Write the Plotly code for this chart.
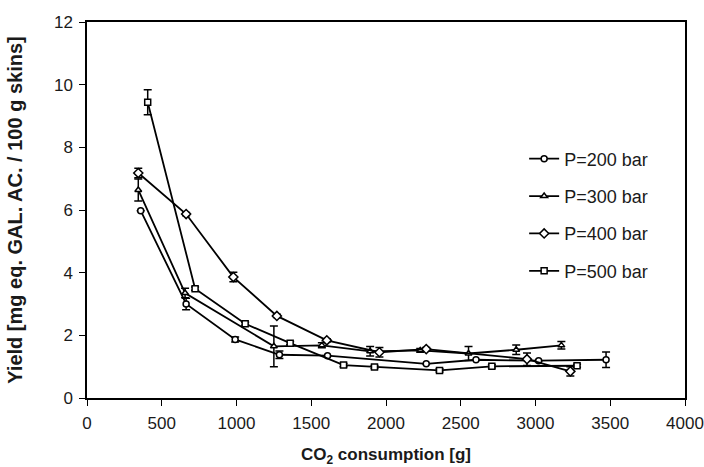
import plotly.graph_objects as go

# P=200 bar (circles)
x200 = [359, 663, 991, 1287, 1609, 2269, 2602, 3021, 3472]
y200 = [5.98, 3.00, 1.87, 1.38, 1.35, 1.09, 1.22, 1.19, 1.22]
e200 = [0.0, 0.18, 0.08, 0.12, 0.0, 0.0, 0.0, 0.0, 0.25]

# P=300 bar (triangles)
x300 = [343, 656, 1250, 1571, 1894, 2229, 2552, 2871, 3173]
y300 = [6.64, 3.35, 1.65, 1.68, 1.49, 1.52, 1.42, 1.54, 1.68]
e300 = [0.35, 0.15, 0.65, 0.08, 0.15, 0.06, 0.22, 0.15, 0.12]

# P=400 bar (diamonds)
x400 = [343, 663, 979, 1270, 1604, 1956, 2269, 2943, 3233]
y400 = [7.18, 5.87, 3.86, 2.62, 1.84, 1.46, 1.56, 1.24, 0.85]
e400 = [0.15, 0.05, 0.15, 0.05, 0.05, 0.15, 0.05, 0.20, 0.15]

# P=500 bar (squares)
x500 = [406, 723, 1058, 1359, 1716, 1923, 2358, 2708, 3278]
y500 = [9.44, 3.49, 2.37, 1.75, 1.05, 0.99, 0.88, 1.01, 1.03]
e500 = [0.40, 0.05, 0.05, 0.05, 0.05, 0.05, 0.05, 0.05, 0.05]

series = [
    ("P=200 bar", x200, y200, e200, "circle", 6),
    ("P=300 bar", x300, y300, e300, "triangle-up", 6),
    ("P=400 bar", x400, y400, e400, "diamond", 7),
    ("P=500 bar", x500, y500, e500, "square", 6),
]

fig = go.Figure()
for i, (name, xs, ys, es, sym, sz) in enumerate(series):
    fig.add_trace(go.Scatter(
        x=xs, y=ys, name=name, mode="lines+markers",
        legendgroup=f"g{i}",
        line=dict(color="black", width=1.8),
        marker=dict(symbol=sym, size=sz, color="white", line=dict(color="black", width=1.5)),
        error_y=dict(type="data", array=es, visible=True, color="black", thickness=1.5, width=4),
    ))

font_family = "Liberation Sans, Arial, sans-serif"
fig.update_layout(
    width=704, height=467,
    margin=dict(l=87, r=19, t=22, b=69, autoexpand=False),
    paper_bgcolor="white", plot_bgcolor="white",
    font=dict(family=font_family, size=17, color="#1a1a1a"),
    showlegend=True,
    legend=dict(x=0.731, y=0.685, xanchor="left", yanchor="top",
                font=dict(size=18, color="#1a1a1a"), tracegroupgap=11,
                bgcolor="rgba(0,0,0,0)", itemwidth=30),
    xaxis=dict(range=[0, 4000], tick0=0, dtick=500, showgrid=False, zeroline=False,
               automargin=False,
               showline=True, linecolor="black", linewidth=1.5, mirror=True,
               ticks="outside", ticklen=6, tickcolor="black", tickwidth=1.2,
               tickfont=dict(size=17), ticklabelstandoff=3,
               title=dict(text="<b>CO<sub>2</sub> consumption [g]</b>", font=dict(size=17), standoff=21)),
    yaxis=dict(range=[0, 12], tick0=0, dtick=2, showgrid=False, zeroline=False,
               automargin=False,
               showline=True, linecolor="black", linewidth=1.5, mirror=True,
               ticks="outside", ticklen=6, tickcolor="black", tickwidth=1.2,
               tickfont=dict(size=17), ticklabelstandoff=3,
               title=dict(text="<b>Yield [mg eq. GAL. AC. / 100 g skins]</b>", font=dict(size=20), standoff=26)),
)

fig.write_html("out.html",
               config={"displayModeBar": False},
               post_script="document.body.style.margin='0';document.body.style.overflow='hidden';")
